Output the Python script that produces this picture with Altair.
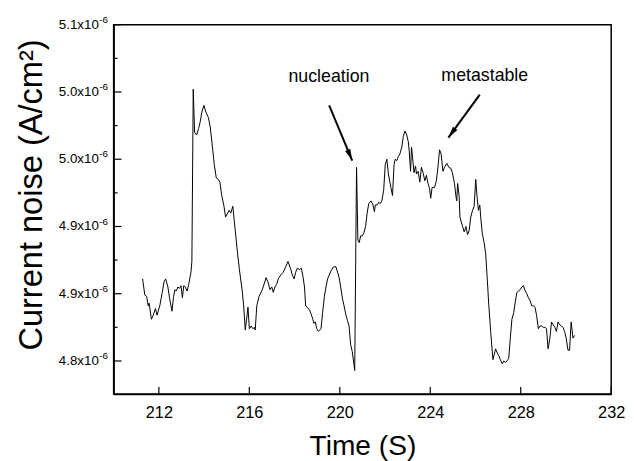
import altair as alt
import pandas as pd

# ---- data (time in s, current noise in units of 1e-6 A/cm^2)
time_s = [
    211.28, 211.38, 211.46, 211.53, 211.57, 211.67, 211.75, 211.85, 211.92, 212.04,
    212.15, 212.23, 212.30, 212.40, 212.47, 212.58, 212.65, 212.71, 212.77, 212.84,
    212.91, 212.98, 213.04, 213.10, 213.17, 213.25, 213.32, 213.42, 213.46, 213.52,
    213.58, 213.67, 213.76, 213.83, 213.90, 213.99, 214.08, 214.19, 214.27, 214.37,
    214.45, 214.54, 214.63, 214.70, 214.77, 214.88, 214.95, 215.04, 215.11, 215.18,
    215.27, 215.36, 215.46, 215.56, 215.68, 215.75, 215.82, 215.90, 215.94, 216.00,
    216.08, 216.16, 216.23, 216.26, 216.33, 216.43, 216.55, 216.67, 216.74, 216.84,
    216.91, 216.99, 217.06, 217.13, 217.21, 217.28, 217.39, 217.50, 217.61, 217.71,
    217.82, 217.90, 217.98, 218.05, 218.12, 218.22, 218.30, 218.37, 218.44, 218.49,
    218.56, 218.66, 218.73, 218.81, 218.85, 218.92, 218.98, 219.05, 219.17, 219.24,
    219.32, 219.39, 219.46, 219.61, 219.72, 219.83, 219.90, 219.97, 220.04, 220.12,
    220.19, 220.26, 220.34, 220.41, 220.48, 220.55, 220.66, 220.74, 220.80, 220.86,
    220.92, 220.99, 221.06, 221.14, 221.21, 221.28, 221.38, 221.47, 221.53, 221.57,
    221.65, 221.72, 221.79, 221.86, 221.94, 222.01, 222.08, 222.15, 222.26, 222.33,
    222.40, 222.45, 222.52, 222.59, 222.66, 222.74, 222.81, 222.88, 222.96, 223.03,
    223.07, 223.13, 223.17, 223.22, 223.28, 223.35, 223.39, 223.46, 223.54, 223.61,
    223.68, 223.76, 223.83, 223.90, 223.97, 224.02, 224.08, 224.19, 224.27, 224.34,
    224.41, 224.48, 224.56, 224.63, 224.73, 224.82, 224.92, 224.99, 225.07, 225.14,
    225.17, 225.21, 225.28, 225.31, 225.36, 225.43, 225.50, 225.58, 225.65, 225.72,
    225.79, 225.87, 225.94, 226.01, 226.07, 226.13, 226.19, 226.24, 226.30, 226.38,
    226.45, 226.52, 226.59, 226.67, 226.77, 226.89, 226.96, 227.03, 227.10, 227.18,
    227.25, 227.32, 227.39, 227.47, 227.54, 227.61, 227.69, 227.76, 227.83, 227.90,
    227.98, 228.05, 228.12, 228.20, 228.27, 228.34, 228.41, 228.49, 228.56, 228.63,
    228.70, 228.78, 228.85, 228.92, 229.00, 229.07, 229.14, 229.21, 229.29, 229.36,
    229.43, 229.51, 229.58, 229.65, 229.72, 229.80, 229.87, 229.94, 230.01, 230.09,
    230.16, 230.23, 230.31, 230.38,
]
noise_e6 = [
    4.861, 4.849, 4.848, 4.841, 4.843, 4.831, 4.834, 4.839, 4.834, 4.841,
    4.851, 4.859, 4.861, 4.855, 4.847, 4.837, 4.848, 4.853, 4.852, 4.855,
    4.854, 4.856, 4.847, 4.856, 4.855, 4.852, 4.857, 4.866, 4.874, 5.002,
    4.970, 4.968, 4.973, 4.978, 4.985, 4.990, 4.985, 4.981, 4.974, 4.959,
    4.946, 4.936, 4.935, 4.933, 4.924, 4.915, 4.907, 4.910, 4.912, 4.910,
    4.915, 4.900, 4.883, 4.868, 4.853, 4.841, 4.823, 4.834, 4.840, 4.824,
    4.826, 4.824, 4.825, 4.823, 4.841, 4.848, 4.852, 4.858, 4.862, 4.858,
    4.853, 4.855, 4.851, 4.855, 4.857, 4.861, 4.864, 4.866, 4.870, 4.874,
    4.869, 4.864, 4.861, 4.866, 4.869, 4.868, 4.869, 4.863, 4.855, 4.841,
    4.840, 4.838, 4.835, 4.831, 4.828, 4.829, 4.824, 4.822, 4.824, 4.836,
    4.848, 4.855, 4.861, 4.867, 4.870, 4.870, 4.866, 4.862, 4.855, 4.846,
    4.841, 4.835, 4.830, 4.826, 4.812, 4.807, 4.793, 4.944, 4.890, 4.888,
    4.893, 4.893, 4.895, 4.900, 4.910, 4.917, 4.919, 4.916, 4.911, 4.916,
    4.916, 4.918, 4.917, 4.919, 4.927, 4.946, 4.950, 4.939, 4.929, 4.923,
    4.946, 4.950, 4.949, 4.952, 4.954, 4.959, 4.967, 4.971, 4.968, 4.963,
    4.956, 4.941, 4.959, 4.951, 4.940, 4.945, 4.939, 4.941, 4.933, 4.944,
    4.940, 4.934, 4.938, 4.932, 4.928, 4.921, 4.929, 4.929, 4.934, 4.944,
    4.957, 4.954, 4.941, 4.944, 4.947, 4.944, 4.943, 4.939, 4.932, 4.922,
    4.919, 4.932, 4.922, 4.907, 4.904, 4.900, 4.896, 4.900, 4.894, 4.897,
    4.907, 4.912, 4.915, 4.935, 4.922, 4.912, 4.916, 4.905, 4.895, 4.888,
    4.880, 4.861, 4.841, 4.822, 4.801, 4.809, 4.806, 4.804, 4.801, 4.798,
    4.800, 4.799, 4.800, 4.802, 4.817, 4.831, 4.836, 4.844, 4.851, 4.852,
    4.853, 4.855, 4.856, 4.852, 4.850, 4.847, 4.845, 4.841, 4.841, 4.840,
    4.834, 4.824, 4.826, 4.826, 4.825, 4.825, 4.824, 4.809, 4.817, 4.829,
    4.827, 4.825, 4.822, 4.829, 4.827, 4.826, 4.825, 4.822, 4.817, 4.808,
    4.808, 4.829, 4.817, 4.819,
]

x_domain = [210, 232]
y_domain = [4.7755, 5.05]
x_major = [212, 216, 220, 224, 228, 232]
y_major = [4.80, 4.85, 4.90, 4.95, 5.00, 5.05]
y_major_labels = ["4.8x10", "4.9x10", "4.9x10", "5.0x10", "5.0x10", "5.1x10"]
y_exponent = "-6"
y_minor = [4.825, 4.875, 4.925, 4.975, 5.025]

ann_text = ["nucleation", "metastable"]
ann_text_t = [219.52, 226.41]
ann_text_v = [5.011, 5.012]
arrow_t0 = [219.53, 226.19]
arrow_v0 = [4.990, 4.998]
arrow_t1 = [220.55, 224.80]
arrow_v1 = [4.949, 4.966]
arrow_angle = [157, 216]

FONT = "Liberation Sans"

series = pd.DataFrame({"t": time_s, "v": noise_e6})
ymaj = pd.DataFrame({"v": y_major, "lab": y_major_labels})
ymin = pd.DataFrame({"v": y_minor})
xmaj = pd.DataFrame({"t": x_major})
ann = pd.DataFrame({"t": ann_text_t, "v": ann_text_v, "txt": ann_text})
arr = pd.DataFrame({"t0": arrow_t0, "v0": arrow_v0, "t1": arrow_t1,
                    "v1": arrow_v1, "ang": arrow_angle})

xs = alt.Scale(domain=x_domain, nice=False, zero=False)
ys = alt.Scale(domain=y_domain, nice=False, zero=False)

x_axis = alt.Axis(values=x_major, ticks=False, grid=False, labelPadding=11,
                  labelFlush=False,
                  labelFontSize=16.5, labelFont=FONT, labelColor="black",
                  domainColor="black", domainWidth=1.5,
                  title="Time (S)", titleFont=FONT, titleFontSize=28.5,
                  titleFontWeight="normal", titleColor="black",
                  titleY=61, titleBaseline="alphabetic")
y_axis = alt.Axis(values=y_major, ticks=False, labels=False, grid=False,
                  domainColor="black", domainWidth=1.5,
                  title="Current noise (A/cm²)", titleFont=FONT, titleFontSize=33,
                  titleFontWeight="normal", titleColor="black",
                  titleAngle=270, titleX=-73, titleY=172,
                  titleAlign="center", titleBaseline="alphabetic")

line = alt.Chart(series).mark_line(color="black", strokeWidth=1).encode(
    x=alt.X("t:Q", scale=xs, axis=x_axis),
    y=alt.Y("v:Q", scale=ys, axis=y_axis),
)

ytick_major = alt.Chart(ymaj).mark_rule(color="black", strokeWidth=1.2).encode(
    y=alt.Y("v:Q", scale=ys), x=alt.value(0), x2=alt.value(8))
ytick_minor = alt.Chart(ymin).mark_rule(color="black", strokeWidth=1.2).encode(
    y=alt.Y("v:Q", scale=ys), x=alt.value(0), x2=alt.value(4))
xtick_major = alt.Chart(xmaj).mark_rule(color="black", strokeWidth=1.2).encode(
    x=alt.X("t:Q", scale=xs), y=alt.value(374), y2=alt.value(367))

ylab = alt.Chart(ymaj).mark_text(align="right", baseline="middle", font=FONT,
                                  fontSize=13.5, color="black").encode(
    y=alt.Y("v:Q", scale=ys), x=alt.value(-15), text="lab:N")
yexp = alt.Chart(ymaj).mark_text(align="left", baseline="middle", font=FONT,
                                  fontSize=10, color="black", dy=-5).encode(
    y=alt.Y("v:Q", scale=ys), x=alt.value(-14.5), text=alt.value(y_exponent))

ann_txt = alt.Chart(ann).mark_text(align="center", baseline="middle", font=FONT,
                                    fontSize=18, color="black").encode(
    x=alt.X("t:Q", scale=xs), y=alt.Y("v:Q", scale=ys), text="txt:N")
arrow_line = alt.Chart(arr).mark_rule(color="black", strokeWidth=2).encode(
    x=alt.X("t0:Q", scale=xs), y=alt.Y("v0:Q", scale=ys),
    x2="t1:Q", y2="v1:Q")
arrow_head = alt.Chart(arr).mark_point(
    shape="M0,0 L0.24,1 L-0.24,1 Z", filled=True, color="black",
    size=550, opacity=1, strokeWidth=0).encode(
    x=alt.X("t1:Q", scale=xs), y=alt.Y("v1:Q", scale=ys),
    angle=alt.Angle("ang:Q", scale=None))

chart = alt.layer(
    line, ytick_major, ytick_minor, xtick_major, ylab, yexp,
    ann_txt, arrow_line, arrow_head,
).properties(
    width=504, height=374,
    autosize=alt.AutoSizeParams(type="none"),
    padding={"left": 107, "top": 14, "right": 15, "bottom": 65},
).configure_view(stroke="black", strokeWidth=1.5)

chart.save("out.html", embed_options={"renderer": "svg", "actions": False})
